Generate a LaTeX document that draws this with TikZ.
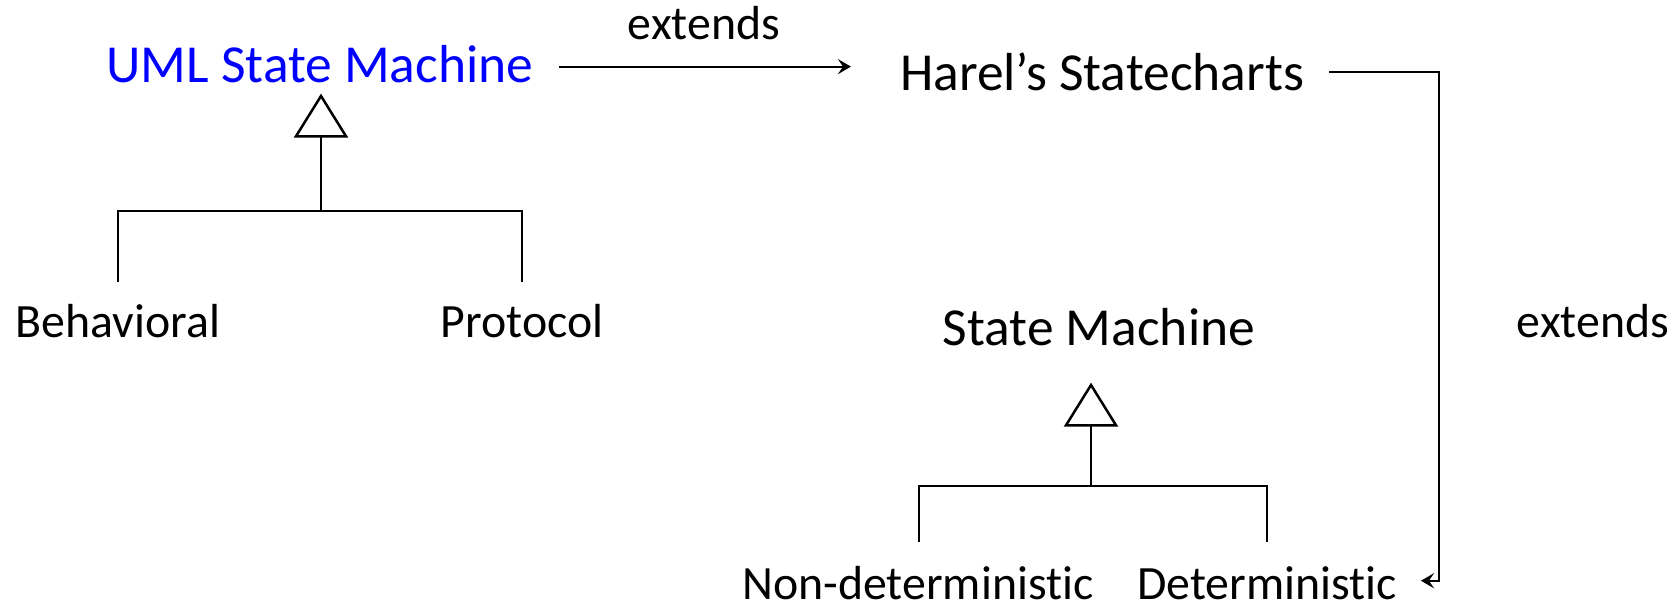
\documentclass[tikz,border=0pt]{standalone}
\usepackage{fontspec}
\setmainfont{Carlito}[Ligatures={NoCommon}]
\usetikzlibrary{arrows.meta,calc}
\definecolor{umlblue}{RGB}{0,0,255}
\begin{document}
\begin{tikzpicture}[x=1pt,y=-1pt,
  title/.style={inner sep=0pt, anchor=base, font=\fontsize{53.5}{60}\selectfont},
  lbl/.style={inner sep=0pt, anchor=base, font=\fontsize{47.8}{54}\selectfont},
  ext/.style={line width=2.2pt, -{Stealth[length=13pt,width=15pt,inset=5pt]}},
  gen/.style={line width=2.2pt, -{Triangle[open,length=44pt,width=54pt,line width=2.5pt]}},
  tree/.style={line width=1.8pt}]
\useasboundingbox (0,0) rectangle (1677,604);

% class names
\node[title, text=umlblue] (uml) at (320,83) {UML State Machine};
\node[title] (harel) at (1102,91) {Harel’s Statecharts};
\node[title] (sm) at (1099,345) {State Machine};

% subclasses
\node[lbl] (behav) at (118,337) {Behavioral};
\node[lbl] (proto) at (522,337) {Protocol};
\node[lbl] (nondet) at (918,599) {Non-deterministic};
\node[lbl] (det) at (1267,599) {Deterministic};

% relation labels
\node[lbl] (ext1) at (704,40) {extends};
\node[lbl] (ext2) at (1593,337) {extends};

% junctions and bend points
\coordinate (jU) at (321,211);
\coordinate (jS) at (1091,486);
\coordinate (bend) at (1439,300);

% extends relations
\draw[ext] ($(uml.east)+(25,2)$) -- ($(uml.east -| harel.west)+(-49,2)$);
\draw[ext] ($(harel.east)+(25,0)$) -| (bend) |- ($(det.east)+(24,-2)$);

% generalisation trees
\draw[tree] ($(behav.north)+(0,-22)$) |- (jU) -| ($(proto.north)+(0,-22)$);
\draw[gen, shorten >=10pt] (jU) -- (jU |- uml.south);
\draw[tree] ($(nondet.north)+(1,-24)$) |- (jS) -| ($(det.north)+(0,-24)$);
\draw[gen, shorten >=37pt] (jS) -- (jS |- sm.south);
\end{tikzpicture}
\end{document}
